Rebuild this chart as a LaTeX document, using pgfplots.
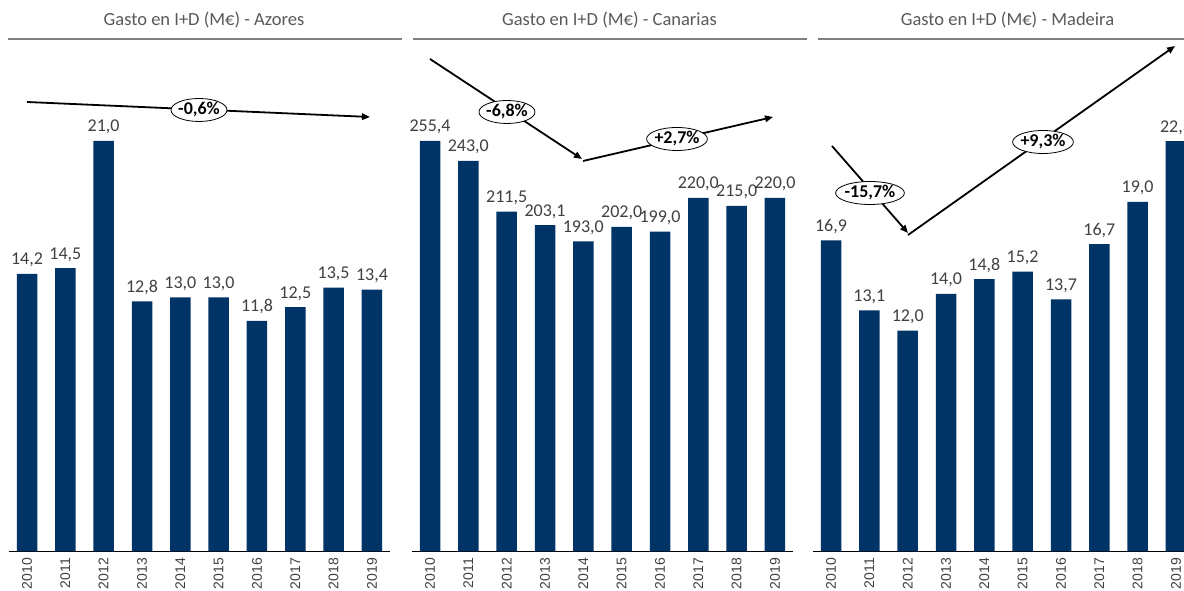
\documentclass[border=0pt]{standalone}
\usepackage{fontspec}
\setmainfont{Carlito}
\newfontfamily\arialf{Liberation Sans}
\usepackage{pgfplots}
\pgfplotsset{compat=1.18}
\usetikzlibrary{arrows.meta,shapes.geometric}
\definecolor{navy}{RGB}{0,51,102}
\definecolor{lbl}{RGB}{64,64,64}
\definecolor{ttl}{RGB}{89,89,89}
\definecolor{rulec}{RGB}{128,128,128}

\pgfplotsset{panel/.style={
  scale only axis, width=381pt, height=506.5pt,
  anchor=south west,
  ybar, bar width=20.5pt,
  enlargelimits=false,
  xmin=-0.47, xmax=9.47, ymin=0,
  axis x line*=bottom, axis y line=none,
  x axis line style={black, line width=0.8pt, -},
  xtick={0,...,9},
  xticklabels={2010,2011,2012,2013,2014,2015,2016,2017,2018,2019},
  major tick length=0pt,
  xticklabel shift=6.5pt,
  xticklabel style={rotate=90, anchor=east, inner sep=0pt,
    font=\arialf\fontsize{14}{14}\selectfont, text=lbl},
  ytick=\empty,
  nodes near coords={\pgfmathprintnumber[fixed,fixed zerofill,precision=1,use comma,assume math mode=true]{\pgfplotspointmeta}},
  every node near coord/.append style={anchor=base, inner sep=0pt, yshift=9pt,
    font=\fontsize{18}{18}\selectfont, text=lbl},
  clip=false,
}}
\tikzset{
  ell/.style={ellipse, draw, fill=white, line width=0.8pt, inner sep=-1pt,
    minimum height=23pt, minimum width=56pt, font=\bfseries\fontsize{18}{18}\selectfont},
  arr/.style={line width=1.8pt, -{Triangle[length=8pt,width=6.5pt]}},
  ttlf/.style={font=\fontsize{18.5}{18.5}\selectfont, text=ttl},
}

\begin{document}
\begin{tikzpicture}[x=1pt,y=1pt]
\path[use as bounding box] (0,0) rectangle (1184,591);
\clip (0,0) rectangle (1184,591);

% Azores
\begin{axis}[panel, at={(9pt,39.5pt)}, ymax=25.91]
\addplot[fill=navy, draw=none] coordinates {
  (0,14.2) (1,14.5) (2,21.0) (3,12.8) (4,13.0)
  (5,13.0) (6,11.8) (7,12.5) (8,13.5) (9,13.4)};
\end{axis}

% Canarias
\begin{axis}[panel, at={(412pt,39.5pt)}, ymax=315.1]
\addplot[fill=navy, draw=none] coordinates {
  (0,255.4) (1,243.0) (2,211.5) (3,203.1) (4,193.0)
  (5,202.0) (6,199.0) (7,220.0) (8,215.0) (9,220.0)};
\end{axis}

% Madeira
\begin{axis}[panel, at={(813pt,39.5pt)}, ymax=27.52]
\addplot[fill=navy, draw=none] coordinates {
  (0,16.9) (1,13.1) (2,12.0) (3,14.0) (4,14.8)
  (5,15.2) (6,13.7) (7,16.7) (8,19.0) (9,22.3)};
\end{axis}

% titles and rules
\draw[rulec, line width=2pt] (8,552)--(402,552);
\draw[rulec, line width=2pt] (413,552)--(807,552);
\draw[rulec, line width=2pt] (818,552)--(1212,552);
\node[ttlf] at (204,571) {Gasto en I+D (M€) - Azores};
\node[ttlf] at (609.5,571) {Gasto en I+D (M€) - Canarias};
\node[ttlf] at (1007.5,571) {Gasto en I+D (M€) - Madeira};

% trend arrows
\draw[arr] (27,489)--(370,474);
\draw[arr] (430,532)--(582,432);
\draw[arr] (583,430)--(773,474);
\draw[arr] (832,445)--(908,358);
\draw[arr] (908,356)--(1175,545);
\node[ell] at (199,481) {-0,6\%};
\node[ell] at (507,479) {-6,8\%};
\node[ell] at (677,452) {+2,7\%};
\node[ell, minimum width=67pt] at (870,398) {-15,7\%};
\node[ell, minimum width=60pt] at (1043,449) {+9,3\%};
\end{tikzpicture}
\end{document}
